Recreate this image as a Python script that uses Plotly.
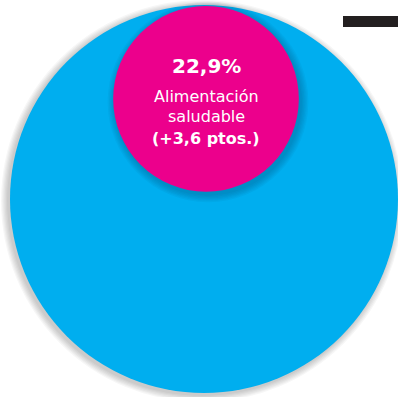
import math
import plotly.graph_objects as go

# Share of spending and its change
total_share = 100.0
category_share = 22.9
category_lines = ["Alimentación", "saludable"]
change_pts = 3.6

W, H = 398, 397
CYAN = "#00AEEF"
MAGENTA = "#EC008C"

# Outer circle = 100 %, inner circle area proportional to the share
R_outer = 194.0
cx_outer, cy_outer = 204.0, 199.0
r_inner = R_outer * math.sqrt(category_share / total_share)
cx_inner = 206.0
cy_inner = (cy_outer - R_outer) + r_inner + 1  # tangent to the top of the outer circle

def circle(cx, cy, r, color, opacity=1.0):
    return dict(type="circle", xref="x", yref="y",
                x0=cx - r, x1=cx + r, y0=cy - r, y1=cy + r,
                fillcolor=color, opacity=opacity, line=dict(width=0), layer="above")

shapes = []
# soft drop shadow behind the outer circle
for i in range(6):
    shapes.append(circle(cx_outer - 2, cy_outer + 2, R_outer + 1 + i * 1.2, "#000000", 0.035))
shapes.append(circle(cx_outer, cy_outer, R_outer, CYAN))
# darker halo of the inner circle on the cyan background
for i in range(6):
    shapes.append(circle(cx_inner + 2, cy_inner + 3, r_inner + 1 + i * 1.3, "#003a60", 0.05))
shapes.append(circle(cx_inner, cy_inner, r_inner, MAGENTA))
# black bar at the top right
shapes.append(dict(type="rect", xref="x", yref="y", x0=343, x1=398, y0=16, y1=27,
                   fillcolor="#231F20", line=dict(width=0), layer="above"))

font_family = "DejaVu Sans, sans-serif"
pct_text = f"{category_share:.1f}%".replace(".", ",")
chg_text = f"(+{change_pts:.1f} ptos.)".replace(".", ",", 1)

def label(text, y, size, bold=False):
    return dict(x=cx_inner, y=y, xref="x", yref="y", showarrow=False,
                text=f"<b>{text}</b>" if bold else text,
                font=dict(family=font_family, size=size, color="white"))

annotations = [
    label(pct_text, 66, 20, bold=True),
    label(category_lines[0], 96, 16),
    label(category_lines[1], 116, 16),
    label(chg_text, 138, 16, bold=True),
]

fig = go.Figure()
fig.update_layout(
    width=W, height=H,
    margin=dict(l=0, r=0, t=0, b=0),
    paper_bgcolor="white", plot_bgcolor="white",
    xaxis=dict(range=[0, W], visible=False, fixedrange=True),
    yaxis=dict(range=[H, 0], visible=False, fixedrange=True),
    shapes=shapes, annotations=annotations, showlegend=False,
)
fig.write_html("out.html")
